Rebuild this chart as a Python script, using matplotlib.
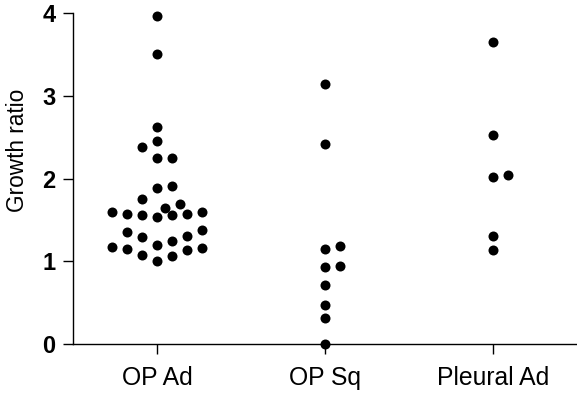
import numpy as np
import matplotlib
matplotlib.use("Agg")
import matplotlib.pyplot as plt

# ---- data ----
categories = ["OP Ad", "OP Sq", "Pleural Ad"]
op_ad = [3.96, 3.50, 2.62, 2.45, 2.38, 2.25, 2.25, 1.91, 1.88, 1.75, 1.69, 1.64,
         1.59, 1.57, 1.57, 1.54, 1.56, 1.56, 1.59,
         1.38, 1.31, 1.25, 1.20, 1.29, 1.35,
         1.17, 1.15, 1.08, 1.00, 1.06, 1.13, 1.16]
op_sq = [3.14, 2.42, 1.18, 1.15, 0.94, 0.93, 0.71, 0.47, 0.32, 0.00]
pleural_ad = [3.65, 2.53, 2.04, 2.02, 1.30, 1.14]
groups = [op_ad, op_sq, pleural_ad]
y_ticks = [0, 1, 2, 3, 4]

plt.rcParams['font.family'] = ['Liberation Sans', 'DejaVu Sans']

W, H, DPI = 5.77, 3.96, 100
fig = plt.figure(figsize=(W, H), dpi=DPI)
left, right, bottom, top = 73 / 577, 1.0, 1 - 344 / 396, 1 - 13 / 396
ax = fig.add_axes([left, bottom, right - left, top - bottom])
ax.set_xlim(0.5, 3.5)
ax.set_ylim(0, 4)

px_x = (right - left) * W * DPI / 3.0   # pixels per category unit
px_y = (top - bottom) * H * DPI / 4.0   # pixels per y unit
slot_px = 15.0                          # horizontal spacing of dots in a row
bin_w = 0.2                             # vertical bin height (data units)
min_dist = 9.5                          # minimal centre distance (pixels)


def column_scatter_offsets(values):
    """Prism-like column scatter: bin by value, spread each bin symmetrically,
    then nudge points by half slots if they would overlap a lower point."""
    vals = np.asarray(values, float)
    bins = np.floor(vals / bin_w + 1e-9).astype(int)
    base = np.zeros(len(vals))
    for b in np.unique(bins):
        idx = np.where(bins == b)[0]
        idx = idx[np.argsort(vals[idx], kind="stable")]
        for j, i in enumerate(idx):
            k = (j + 1) // 2
            base[i] = 0 if j == 0 else (k if j % 2 == 1 else -k)
    placed = []
    offs = np.zeros(len(vals))
    steps = [0, 0.5, -0.5, 1, -1, 1.5, -1.5, 2, -2]
    for i in np.argsort(vals, kind="stable"):
        y = vals[i] * px_y
        for s in steps:
            x = (base[i] + s) * slot_px
            if all(np.hypot(x - xp, y - yp) >= min_dist for xp, yp in placed):
                break
        placed.append((x, y))
        offs[i] = x / px_x
    return offs


for k, vals in enumerate(groups):
    xs = (k + 1) + column_scatter_offsets(vals)
    ax.plot(xs, vals, 'o', color='black', markersize=7.2, markeredgewidth=0,
            clip_on=False, zorder=5)

for s in ['top', 'right']:
    ax.spines[s].set_visible(False)
for s in ['left', 'bottom']:
    ax.spines[s].set_linewidth(1.0)
    ax.spines[s].set_color('black')

ax.set_xticks([1, 2, 3])
ax.set_xticklabels(categories, fontsize=17.8)
ax.set_yticks(y_ticks)
ax.set_yticklabels([str(t) for t in y_ticks], fontsize=17, fontweight='bold')
ax.tick_params(axis='both', direction='out', length=7.5, width=1.0, color='black')
ax.tick_params(axis='y', pad=5)
ax.tick_params(axis='x', pad=8)
ax.set_ylabel("Growth ratio", fontsize=16.3)
ax.yaxis.set_label_coords(-0.087, 0.585)

fig.savefig("out.png", dpi=DPI)
